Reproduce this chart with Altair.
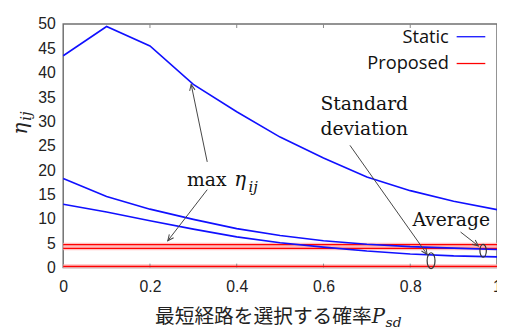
import altair as alt
import pandas as pd

# ---- data ----
p_sd = [0.0, 0.1, 0.2, 0.3, 0.4, 0.5, 0.6, 0.7, 0.8, 0.9, 1.0]
static_max = [43.5, 49.5, 45.5, 37.6, 32.0, 26.8, 22.5, 18.6, 15.8, 13.6, 11.9]
static_avg = [18.3, 14.6, 12.0, 9.9, 8.0, 6.6, 5.5, 4.8, 4.3, 4.0, 3.7]
static_std = [13.0, 11.4, 9.6, 7.9, 6.3, 5.1, 4.2, 3.4, 2.8, 2.4, 2.2]
proposed_max = [4.7, 4.7, 4.7, 4.7, 4.7, 4.7, 4.7, 4.7, 4.7, 4.7, 4.7]
proposed_avg = [3.95, 3.95, 3.95, 3.95, 3.95, 3.95, 3.95, 3.95, 3.95, 3.95, 3.95]
proposed_std = [0.26, 0.26, 0.26, 0.26, 0.26, 0.26, 0.26, 0.26, 0.26, 0.26, 0.26]

x_ticks = [0, 0.2, 0.4, 0.6, 0.8, 1]
y_ticks = [0, 5, 10, 15, 20, 25, 30, 35, 40, 45, 50]
inner_ticks = [0.2, 0.4, 0.6, 0.8]

legend_labels = ["Static", "Proposed"]
legend_colors = ["#1010ff", "#ff0000"]

# annotations (data coordinates)
arrow_x = [0.332, 0.332, 0.661, 0.916]
arrow_y = [21.7, 16.0, 25.1, 7.3]
arrow_x2 = [0.295, 0.241, 0.839, 0.957]
arrow_y2 = [37.6, 5.5, 2.7, 4.45]
arrow_angle = [349, 218, 145, 128]

ellipse_x = [0.848, 0.968]
ellipse_y = [1.42, 3.44]
ellipse_size = [256, 169]

# ---- tables ----
def long(series):
    rows = []
    for name, vals in series.items():
        for p, v in zip(p_sd, vals):
            rows.append({"p": p, "v": v, "m": name})
    return pd.DataFrame(rows)

static_df = long({"max": static_max, "avg": static_avg, "std": static_std})
prop_df = long({"max": proposed_max, "avg": proposed_avg, "std": proposed_std})

xs = alt.Scale(domain=[0, 1], nice=False, zero=False)
ys = alt.Scale(domain=[0, 50], nice=False)

x_axis = dict(values=x_ticks, format="~g", title=None, labelPadding=11,
              labelFlush=False, labelOverlap=False)
y_axis = dict(values=y_ticks, title=None, labelPadding=8,
              labelOverlap=False, labelFlush=False)

def Xa(f):
    return alt.X(f, scale=xs, axis=alt.Axis(**x_axis))

def Ya(f):
    return alt.Y(f, scale=ys, axis=alt.Axis(**y_axis))

prop_halo = alt.Chart(prop_df).mark_line(color="#ffb0b0", strokeWidth=4, opacity=0.8).encode(
    x=Xa("p:Q"), y=Ya("v:Q"), detail="m:N")
prop_lines = alt.Chart(prop_df).mark_line(color="#ff0000", strokeWidth=1.2).encode(
    x=Xa("p:Q"), y=Ya("v:Q"), detail="m:N")
static_lines = alt.Chart(static_df).mark_line(color="#1010ff", strokeWidth=1.6).encode(
    x=Xa("p:Q"), y=Ya("v:Q"), detail="m:N")

# inner ticks (top and bottom)
tick_df = pd.DataFrame({"p": inner_ticks})
ticks_bottom = alt.Chart(tick_df).mark_rule(color="#888", strokeWidth=1).encode(
    x=Xa("p:Q"), y=alt.value(247), y2=alt.value(243))
ticks_top = alt.Chart(tick_df).mark_rule(color="#888", strokeWidth=1).encode(
    x=Xa("p:Q"), y=alt.value(0), y2=alt.value(4))

# arrows
arr_df = pd.DataFrame({"x": arrow_x, "y": arrow_y, "x2": arrow_x2, "y2": arrow_y2, "a": arrow_angle})
shafts = alt.Chart(arr_df).mark_rule(color="#444", strokeWidth=1).encode(
    x=Xa("x:Q"), y=Ya("y:Q"), x2="x2:Q", y2="y2:Q")
heads = alt.Chart(arr_df).mark_point(
    shape="M -0.45 1 L 0 0 L 0.45 1", filled=False, color="#444", strokeWidth=1, size=150, opacity=1
).encode(x=Xa("x2:Q"), y=Ya("y2:Q"), angle=alt.Angle("a:Q", scale=None))

ell_df = pd.DataFrame({"x": ellipse_x, "y": ellipse_y, "s": ellipse_size})
ellipses = alt.Chart(ell_df).mark_point(
    shape="M -0.5 0 A 0.5 1 0 1 0 0.5 0 A 0.5 1 0 1 0 -0.5 0",
    filled=False, color="#333", strokeWidth=1.2, opacity=1
).encode(x=Xa("x:Q"), y=Ya("y:Q"), size=alt.Size("s:Q", scale=None))

# annotation texts
serif = "DejaVu Serif"
ann_df = pd.DataFrame({
    "x": [0.331, 0.593, 0.593, 0.805],
    "y": [18.0, 33.6, 28.5, 9.7],
    "t": ["max", "Standard", "deviation", "Average"],
})
ann_center = alt.Chart(ann_df.iloc[:1]).mark_text(
    font=serif, fontSize=19, align="center", baseline="middle", color="#111"
).encode(x=Xa("x:Q"), y=Ya("y:Q"), text="t:N")
ann_left = alt.Chart(ann_df.iloc[1:]).mark_text(
    font=serif, fontSize=19, align="left", baseline="middle", color="#111"
).encode(x=Xa("x:Q"), y=Ya("y:Q"), text="t:N")

eta_df = pd.DataFrame({"x": [0.408], "y": [18.0], "t": ["η"]})
eta = alt.Chart(eta_df).mark_text(
    font=serif, fontStyle="italic", fontSize=20, align="center", baseline="middle", color="#111"
).encode(x=Xa("x:Q"), y=Ya("y:Q"), text="t:N")
ij_df = pd.DataFrame({"x": [0.427], "y": [16.6], "t": ["ij"]})
ij = alt.Chart(ij_df).mark_text(
    font=serif, fontStyle="italic", fontSize=15, align="left", baseline="middle", color="#111"
).encode(x=Xa("x:Q"), y=Ya("y:Q"), text="t:N")

# legend
leg_df = pd.DataFrame({
    "t": legend_labels, "c": legend_colors,
    "x": [0.889, 0.889], "lx": [0.907, 0.907], "lx2": [0.973, 0.973], "y": [47.4, 41.9],
})
leg_text = alt.Chart(leg_df).mark_text(
    font="Open Sans", fontSize=18.5, align="right", baseline="middle", color="#111"
).encode(x=Xa("x:Q"), y=Ya("y:Q"), text="t:N")
leg_lines = alt.Chart(leg_df).mark_rule(strokeWidth=1.3).encode(
    x=Xa("lx:Q"), x2="lx2:Q", y=Ya("y:Q"),
    color=alt.Color("c:N", scale=None))

# axis titles as text
xt_df = pd.DataFrame({"t": ["最短経路を選択する確率"]})
x_title = alt.Chart(xt_df).mark_text(
    font="Noto Sans CJK JP", fontSize=20, align="center", baseline="middle", color="#222"
).encode(x=alt.value(203), y=alt.value(297), text="t:N")
p_df = pd.DataFrame({"t": ["P"]})
p_title = alt.Chart(p_df).mark_text(
    font=serif, fontStyle="italic", fontSize=20, align="left", baseline="middle", color="#222"
).encode(x=alt.value(313), y=alt.value(297), text="t:N")
sd_df = pd.DataFrame({"t": ["sd"]})
sd_title = alt.Chart(sd_df).mark_text(
    font=serif, fontStyle="italic", fontSize=14, align="left", baseline="middle", color="#222"
).encode(x=alt.value(327), y=alt.value(303), text="t:N")

eta_y_df = pd.DataFrame({"t": ["η"]})
y_eta = alt.Chart(eta_y_df).mark_text(
    font=serif, fontStyle="italic", fontSize=20, angle=270, align="center", baseline="middle", color="#222"
).encode(x=alt.value(-43), y=alt.value(106), text="t:N")
ij_y_df = pd.DataFrame({"t": ["ij"]})
y_ij = alt.Chart(ij_y_df).mark_text(
    font=serif, fontStyle="italic", fontSize=15, angle=270, align="left", baseline="middle", color="#222"
).encode(x=alt.value(-38), y=alt.value(98), text="t:N")

chart = alt.layer(
    prop_halo, ticks_bottom, ticks_top, prop_lines, static_lines,
    shafts, heads, ellipses, ann_center, ann_left, eta, ij,
    leg_text, leg_lines, x_title, p_title, sd_title, y_eta, y_ij,
).properties(
    width=440, height=247,
    autosize=alt.AutoSizeParams(type="none"),
    padding={"left": 56, "top": 14, "right": 0, "bottom": 60},
).configure_view(
    stroke="#707070", strokeWidth=1.5
).configure_axis(
    labelFont="Liberation Sans", labelFontSize=16, labelColor="#222",
    ticks=False, domain=False, grid=False,
)

chart.save("out.html", embed_options={"renderer": "svg", "actions": False})
